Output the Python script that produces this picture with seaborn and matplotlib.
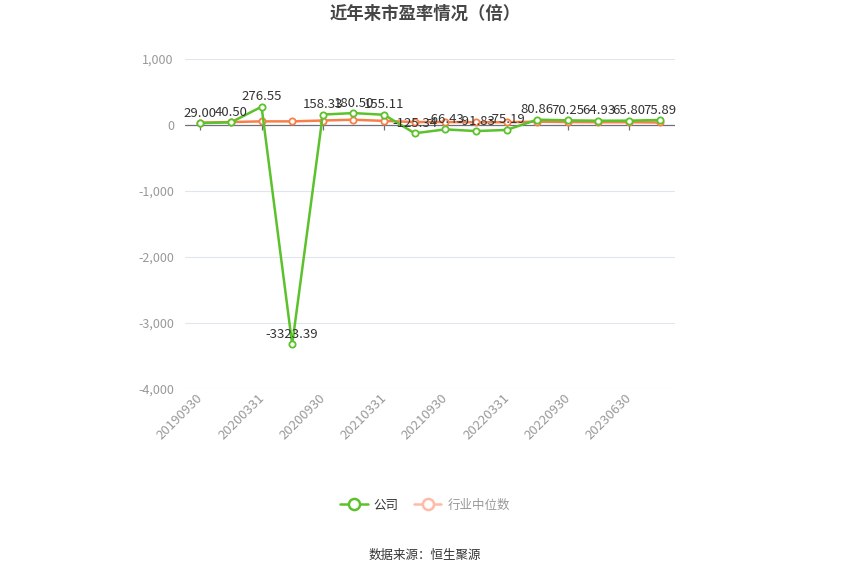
import numpy as np
import pandas as pd
import matplotlib
matplotlib.use("Agg")
import matplotlib.pyplot as plt
import matplotlib.transforms as mtransforms
import seaborn as sns
from matplotlib.lines import Line2D

# ----- data -----
report_dates = ["20190930", "20191231", "20200331", "20200630", "20200930", "20201231",
                "20210331", "20210630", "20210930", "20211231", "20220331", "20220630",
                "20220930", "20230331", "20230630", "20230930"]
company_pe = [29.00, 40.50, 276.55, -3323.39, 158.33, 180.50, 155.11, -125.34,
              -66.43, -91.83, -75.19, 80.86, 70.25, 64.93, 65.80, 75.89]
industry_pe = [35, 45, 55, 55, 68, 80, 62, 45, 45, 42, 42, 50, 45, 42, 42, 38]
y_ticks = [-4000, -3000, -2000, -1000, 0, 1000]

green = "#5cc22c"
orange = "#f7804a"

sns.set_theme(style="white")
plt.rcParams["font.family"] = ["Noto Sans CJK SC", "DejaVu Sans"]
plt.rcParams["axes.unicode_minus"] = False

df = pd.DataFrame({
    "idx": np.arange(len(report_dates)),
    "company": company_pe,
    "industry": industry_pe,
})

fig = plt.figure(figsize=(8.5, 5.74), dpi=100)
ax = fig.add_axes([185 / 850, 1 - 389 / 574, 490 / 850, 330 / 574])

# gridlines
for t in y_ticks:
    if t != 0:
        ax.axhline(t, color="#e0e6f1", lw=0.8, zorder=0)
ax.axhline(0, color="#6e7079", lw=0.9, zorder=1)

# x tick marks on the zero line
tick_pos = df["idx"].values[::2]
ax.vlines(tick_pos, -75, 0, color="#6e7079", lw=0.9, zorder=1)

sns.lineplot(data=df, x="idx", y="industry", ax=ax, color=orange, lw=1.8,
             marker="o", markersize=4.5, markerfacecolor="white",
             markeredgecolor=orange, markeredgewidth=1.3, zorder=3)
sns.lineplot(data=df, x="idx", y="company", ax=ax, color=green, lw=1.8,
             marker="o", markersize=4.5, markerfacecolor="white",
             markeredgecolor=green, markeredgewidth=1.3, zorder=4)

for i, v in zip(df["idx"], df["company"]):
    ax.annotate(f"{v:.2f}", (i, v), xytext=(0, 2.5), textcoords="offset points",
                ha="center", va="bottom", fontsize=9.5, color="#333333", zorder=5)

ax.set_xlim(-0.5, len(report_dates) - 0.5)
ax.set_ylim(-4000, 1000)
ax.set_yticks(y_ticks)
ax.set_yticklabels([f"{t:,}" for t in y_ticks], color="#999999", fontsize=9)
ax.set_xticks(tick_pos)
ax.set_xticklabels(report_dates[::2], rotation=45, ha="right", va="top",
                   rotation_mode="anchor", color="#999999", fontsize=9.5)
ax.tick_params(axis="both", length=0, pad=8)
ax.tick_params(axis="x", pad=2)
shift = mtransforms.ScaledTranslation(-4 / 100, 0, fig.dpi_scale_trans)
for lab in ax.get_xticklabels():
    lab.set_transform(lab.get_transform() + shift)
ax.set_xlabel("")
ax.set_ylabel("")
for s in ax.spines.values():
    s.set_visible(False)

fig.suptitle("近年来市盈率情况（倍）", x=0.5, y=1 - 14 / 574, va="center",
             fontsize=12.5, fontweight="bold", color="#464646")

handles = [
    Line2D([0], [0], color=green, lw=1.8, marker="o", markersize=8,
           markerfacecolor="white", markeredgecolor=green, markeredgewidth=1.8),
    Line2D([0], [0], color="#ffbba5", lw=1.8, marker="o", markersize=8,
           markerfacecolor="white", markeredgecolor="#ffbba5", markeredgewidth=1.8),
]
leg = fig.legend(handles, ["公司", "行业中位数"], loc="center",
                 bbox_to_anchor=(0.5, 1 - 505 / 574), ncol=2, frameon=False,
                 fontsize=9, handlelength=2.2, columnspacing=1.2, handletextpad=0.5)
leg.get_texts()[0].set_color("#333333")
leg.get_texts()[1].set_color("#999999")

fig.text(0.5, 1 - 555 / 574, "数据来源：恒生聚源", ha="center", va="center",
         fontsize=9, color="#333333")

fig.savefig("out.png", dpi=100)
